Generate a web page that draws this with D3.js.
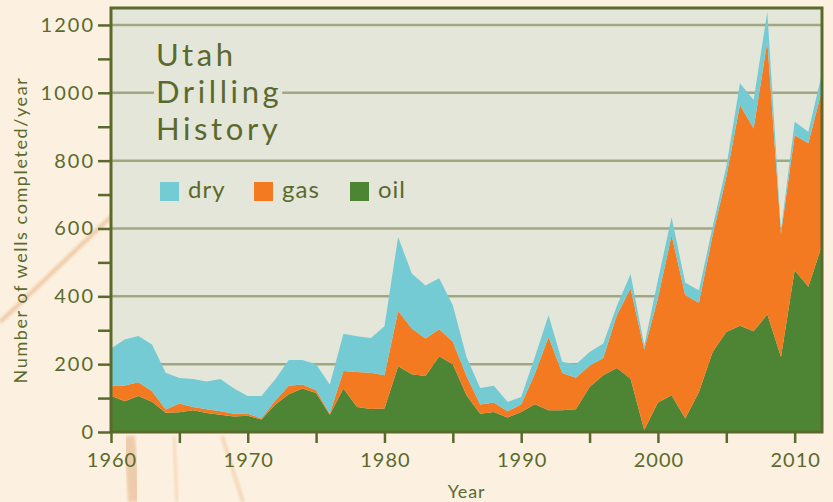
<!DOCTYPE html>
<html>
<head>
<meta charset="utf-8">
<script src="https://cdn.jsdelivr.net/npm/d3@7"></script>
<style>
  html, body { margin: 0; padding: 0; background: #fcf1e0; }
  svg { display: block; }
</style>
</head>
<body>
<div id="chart"></div>
<script>
// Wells completed per year in Utah
const years = d3.range(1960, 2013);
const oilWells = [107, 91, 106, 89, 57, 58, 64, 56, 51, 46,
  48, 37, 80, 111, 128, 115, 51, 128, 74, 68,
  69, 194, 170, 165, 223, 200, 108, 54, 59, 43,
  59, 82, 64, 64, 67, 133, 167, 189, 157, 6,
  87, 108, 40, 118, 236, 295, 313, 297, 347, 221,
  477, 428, 551];
const gasWells = [28, 46, 41, 31, 9, 26, 10, 11, 10, 8,
  6, 3, 12, 25, 12, 8, 3, 52, 103, 107,
  98, 163, 135, 111, 80, 66, 57, 27, 28, 18,
  22, 90, 216, 110, 93, 62, 51, 156, 266, 237,
  307, 472, 363, 263, 344, 457, 651, 598, 804, 364,
  398, 423, 457];
const dryWells = [111, 136, 136, 138, 109, 75, 82, 82, 95, 74,
  52, 66, 63, 76, 72, 77, 86, 110, 105, 102,
  145, 218, 162, 156, 150, 108, 56, 49, 49, 28,
  22, 49, 64, 33, 39, 41, 43, 27, 43, 12,
  54, 53, 37, 37, 25, 30, 64, 84, 88, 10,
  40, 34, 50];

const seriesKeys = ['oil', 'gas', 'dry'];
const legendKeys = ['dry', 'gas', 'oil'];
const titleLines = ['Utah', 'Drilling', 'History'];
const yTicks = d3.range(0, 1201, 100);
const xTicks = d3.range(1960, 2011, 5);

const colors = { dry: '#74cbd3', gas: '#f47a21', oil: '#4e8535' };
const ink = '#5a6a2c';
const font = 'Lato, sans-serif';

const rows = years.map((yr, i) => ({ year: yr, oil: oilWells[i], gas: gasWells[i], dry: dryWells[i] }));

const width = 833, height = 502;
const plotL = 111, plotR = 822, plotT = 8, plotB = 432;

const svg = d3.select('#chart').append('svg')
  .attr('width', width)
  .attr('height', height);

// paper texture streaks
const defs = svg.append('defs');
defs.append('filter').attr('id', 'soft')
  .attr('x', '-50%').attr('y', '-50%').attr('width', '200%').attr('height', '200%')
  .append('feGaussianBlur').attr('stdDeviation', 1.8);

svg.append('rect').attr('width', width).attr('height', height).attr('fill', '#fcf1e0');
const streaks = [
  { d: 'M0,322 C35,290 75,250 112,216', w: 4, o: 0.55 },
  { d: 'M129,436 C131,460 133,482 134,502', w: 12, o: 0.5 },
  { d: 'M174,436 C175,460 176,482 177,502', w: 3, o: 0.35 },
  { d: 'M222,436 C229,458 236,480 243,502', w: 3, o: 0.45 }
];
svg.append('g').selectAll('path')
  .data(streaks)
  .join('path')
  .attr('d', s => s.d)
  .attr('fill', 'none')
  .attr('stroke', '#e2a875')
  .attr('stroke-width', s => s.w)
  .attr('stroke-opacity', s => s.o)
  .attr('filter', 'url(#soft)');

const x = d3.scaleLinear().domain([1960, 2012]).range([plotL, plotR]);
const y = d3.scaleLinear().domain([0, 1250]).range([plotB, plotT]);

// plot background
svg.append('rect')
  .attr('x', plotL).attr('y', plotT)
  .attr('width', plotR - plotL).attr('height', plotB - plotT)
  .attr('fill', '#e5e6da');

// gridlines
svg.append('g').selectAll('line')
  .data(d3.range(200, 1201, 200))
  .join('line')
  .attr('x1', plotL).attr('x2', plotR)
  .attr('y1', d => y(d)).attr('y2', d => y(d))
  .attr('stroke', '#a0a882')
  .attr('stroke-width', 2.5);

// title, with a patch hiding the gridline behind it
const titleG = svg.append('g');
const titleBg = titleG.append('rect').attr('fill', '#e5e6da');
titleG.selectAll('text')
  .data(titleLines)
  .join('text')
  .attr('x', 156)
  .attr('y', (d, i) => 65.5 + i * 37.2)
  .attr('font-family', font)
  .attr('font-size', 31)
  .attr('letter-spacing', 3.6)
  .attr('fill', ink)
  .text(d => d);
const tb = titleG.node().getBBox();
titleBg.attr('x', tb.x - 2).attr('y', tb.y + 6)
  .attr('width', tb.width + 2).attr('height', tb.height - 12);

// legend
const legend = svg.append('g');
const legendX = { dry: 160, gas: 254, oil: 350 };
legendKeys.forEach(k => {
  legend.append('rect')
    .attr('x', legendX[k]).attr('y', 182)
    .attr('width', 19).attr('height', 19)
    .attr('fill', colors[k]);
  legend.append('text')
    .attr('x', legendX[k] + 28).attr('y', 198)
    .attr('font-family', font)
    .attr('font-size', 24)
    .attr('letter-spacing', 1)
    .attr('fill', ink)
    .text(k);
});

// stacked areas
const stack = d3.stack().keys(seriesKeys);
const layers = stack(rows);
const area = d3.area()
  .x(d => x(d.data.year))
  .y0(d => y(d[0]))
  .y1(d => y(d[1]));

svg.append('g').selectAll('path')
  .data(layers)
  .join('path')
  .attr('d', area)
  .attr('fill', d => colors[d.key]);

// frame
svg.append('rect')
  .attr('x', plotL).attr('y', plotT)
  .attr('width', plotR - plotL).attr('height', plotB - plotT)
  .attr('fill', 'none')
  .attr('stroke', ink)
  .attr('stroke-width', 3);

// axes
const yAxis = svg.append('g')
  .attr('transform', `translate(${plotL},0)`)
  .call(d3.axisLeft(y).tickValues(yTicks).tickSize(13).tickPadding(3)
    .tickFormat(d => d % 200 === 0 ? d : ''));
const xAxis = svg.append('g')
  .attr('transform', `translate(0,${plotB})`)
  .call(d3.axisBottom(x).tickValues(xTicks).tickSize(11).tickPadding(10)
    .tickFormat(d => d % 10 === 0 ? d : ''));

[yAxis, xAxis].forEach(a => {
  a.select('.domain').remove();
  a.selectAll('line').attr('stroke', ink).attr('stroke-width', 2.5);
  a.selectAll('text')
    .attr('fill', ink)
    .attr('font-family', font)
    .attr('font-size', 20);
});
yAxis.selectAll('text').attr('letter-spacing', 2);
xAxis.selectAll('text').attr('letter-spacing', 1).attr('dx', 0.5);

// axis titles
svg.append('text')
  .attr('transform', 'translate(27,230) rotate(-90)')
  .attr('text-anchor', 'middle')
  .attr('font-family', font)
  .attr('font-size', 18)
  .attr('letter-spacing', 1.6)
  .attr('fill', ink)
  .text('Number of wells completed/year');

svg.append('text')
  .attr('x', (plotL + plotR) / 2)
  .attr('y', 498)
  .attr('text-anchor', 'middle')
  .attr('font-family', font)
  .attr('font-size', 18)
  .attr('letter-spacing', 0.8)
  .attr('fill', ink)
  .text('Year');
</script>
</body>
</html>
